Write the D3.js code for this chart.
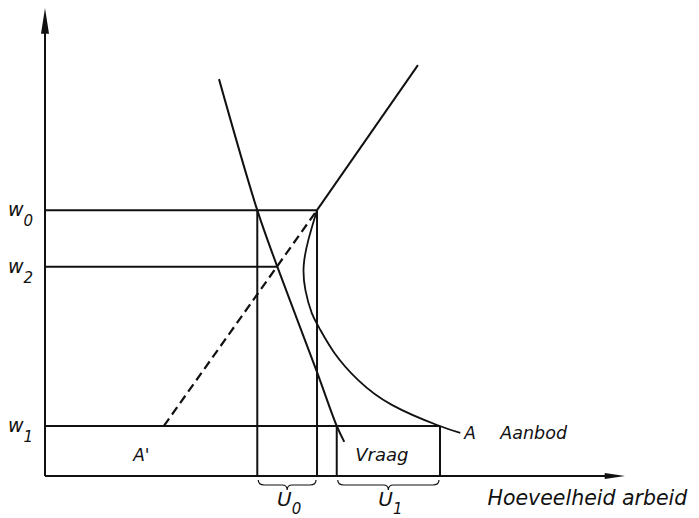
<!DOCTYPE html>
<html>
<head>
<meta charset="utf-8">
<script src="https://cdn.jsdelivr.net/npm/d3@7"></script>
<style>
  body { margin: 0; background: #fff; }
  text { font-family: "DejaVu Sans", sans-serif; font-style: italic; fill: #111; }
</style>
</head>
<body>
<svg id="chart" width="699" height="518"></svg>
<script>
// wage levels on the vertical axis
const wageNames = ["w", "w", "w"];
const wageSubs = ["0", "2", "1"];
const wageLevels = [56.8, 44.7, 10.7];

// demand curve (Vraag)
const demandPts = [[30.0, 84.8], [36.6, 56.8], [40.0, 44.9], [46.9, 22.2], [50.3, 10.7], [51.6, 7.3]];
// supply line above the kink, and dashed continuation (A')
const supplyUpper = [[46.9, 56.8], [64.3, 87.8]];
const supplyDashed = [[20.5, 10.7], [46.9, 56.8]];
// backward-bending supply curve A
const supplyA = [[46.9, 56.8], [45.4, 50.4], [44.6, 44.9], [44.9, 39.7], [46.0, 34.8], [47.3, 31.6],
                 [49.9, 26.3], [54.0, 20.5], [59.8, 15.2], [67.6, 10.9], [71.6, 9.2]];

// quantities marking the boxes
const qDemandW0 = 36.6, qKink = 46.9, qDemandW1 = 50.3, qSupplyW1 = 68.1, qDemandW2 = 40.0;
const braces = [{ from: qDemandW0, to: qKink, name: "U", sub: "0" },
                { from: qDemandW1, to: qSupplyW1, name: "U", sub: "1" }];

const svg = d3.select("#chart");
const x = d3.scaleLinear().domain([0, 100]).range([45, 625]);
const y = d3.scaleLinear().domain([0, 100]).range([476, 8]);
const line = d3.line().x(d => x(d[0])).y(d => y(d[1]));

const ink = "#111";

// axes with arrows
svg.append("line").attr("x1", x(0)).attr("y1", y(0)).attr("x2", x(0)).attr("y2", y(95))
  .attr("stroke", ink).attr("stroke-width", 2);
svg.append("path")
  .attr("d", `M${x(0)},${y(100)} L${x(0) - 4},${y(94.5)} L${x(0) + 4},${y(94.5)} Z`)
  .attr("fill", ink);
svg.append("line").attr("x1", x(0)).attr("y1", y(0)).attr("x2", x(97)).attr("y2", y(0))
  .attr("stroke", ink).attr("stroke-width", 2);
svg.append("path")
  .attr("d", `M${x(100)},${y(0)} L${x(96.5)},${y(0) - 3} L${x(96.5)},${y(0) + 3} Z`)
  .attr("fill", ink);

// horizontal wage lines
const hEnds = [qKink, qDemandW2, qSupplyW1];
wageLevels.forEach((w, i) => {
  svg.append("line").attr("x1", x(0)).attr("x2", x(hEnds[i]))
    .attr("y1", y(w)).attr("y2", y(w)).attr("stroke", ink).attr("stroke-width", 2);
  const t = svg.append("text").attr("x", 8).attr("y", y(w) + 6).style("font-size", "19px");
  t.append("tspan").text(wageNames[i]);
  t.append("tspan").attr("dy", 10).style("font-size", "15px").text(wageSubs[i]);
});

// vertical box lines
[[qDemandW0, wageLevels[0]], [qKink, wageLevels[0]], [qDemandW1, wageLevels[2]], [qSupplyW1, wageLevels[2]]]
  .forEach(([q, w]) => {
    svg.append("line").attr("x1", x(q)).attr("x2", x(q)).attr("y1", y(w)).attr("y2", y(0))
      .attr("stroke", ink).attr("stroke-width", 2);
  });

// demand
svg.append("path").datum(demandPts).attr("d", line.curve(d3.curveCatmullRom)).attr("fill", "none")
  .attr("stroke", ink).attr("stroke-width", 2);

// supply
svg.append("path").datum(supplyUpper).attr("d", line.curve(d3.curveLinear)).attr("fill", "none")
  .attr("stroke", ink).attr("stroke-width", 2);
svg.append("path").datum(supplyDashed).attr("d", line.curve(d3.curveLinear)).attr("fill", "none")
  .attr("stroke", ink).attr("stroke-width", 2.2).attr("stroke-dasharray", "9,5");
svg.append("path").datum(supplyA).attr("d", line.curve(d3.curveNatural)).attr("fill", "none")
  .attr("stroke", ink).attr("stroke-width", 1.8);

// braces
braces.forEach(b => {
  const x1 = x(b.from) + 1, x2 = x(b.to) - 1, m = (x1 + x2) / 2, y0 = y(0) + 4;
  svg.append("path")
    .attr("d", `M${x1},${y0} Q${x1},${y0 + 5} ${x1 + 6},${y0 + 5} L${m - 5},${y0 + 5} Q${m},${y0 + 5} ${m},${y0 + 10}` +
               ` Q${m},${y0 + 5} ${m + 5},${y0 + 5} L${x2 - 6},${y0 + 5} Q${x2},${y0 + 5} ${x2},${y0}`)
    .attr("fill", "none").attr("stroke", ink).attr("stroke-width", 1.2);
  const t = svg.append("text").attr("x", m + 2).attr("y", y0 + 26).attr("text-anchor", "middle")
    .style("font-size", "20px");
  t.append("tspan").text(b.name);
  t.append("tspan").attr("dy", 8).style("font-size", "15px").text(b.sub);
});

// labels
svg.append("text").attr("x", x(15.2)).attr("y", y(3.2)).style("font-size", "17px").text("A'");
svg.append("text").attr("x", x(53.5)).attr("y", y(3.2)).style("font-size", "18px").text("Vraag");
svg.append("text").attr("x", x(72.3)).attr("y", y(8.0)).style("font-size", "17px").text("A");
svg.append("text").attr("x", x(78.5)).attr("y", y(8.0)).style("font-size", "17.5px").text("Aanbod");
svg.append("text").attr("x", x(76.3)).attr("y", y(-6.3)).style("font-size", "20.5px").text("Hoeveelheid arbeid");
</script>
</body>
</html>
